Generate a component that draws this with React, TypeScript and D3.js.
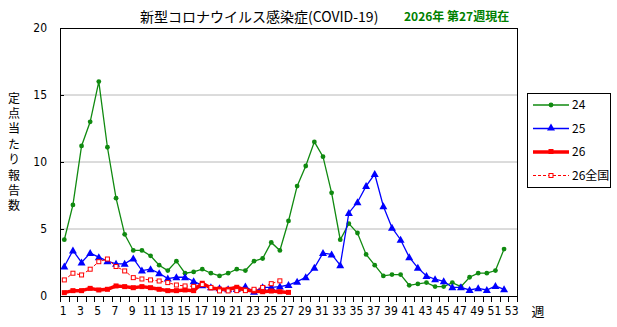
import React from "react";
import { scaleBand, scaleLinear, line, range } from "d3";

const weeks = range(1, 54);
const yTicks = [0, 5, 10, 15, 20];

// 定点当たり報告数, by week
const s2024 = [
  4.2, 6.8, 11.2, 13.0, 16.0, 11.1, 7.3, 4.6, 3.4, 3.4, 3.0, 2.3, 1.9, 2.6, 1.7, 1.8, 2.0,
  1.7, 1.5, 1.7, 2.0, 1.9, 2.6, 2.8, 4.0, 3.4, 5.6, 8.2, 9.7, 11.5, 10.4, 7.7, 4.2, 5.4,
  4.7, 3.1, 2.3, 1.5, 1.6, 1.6, 0.8, 0.9, 1.0, 0.7, 0.7, 1.0, 0.7, 1.4, 1.7, 1.7, 1.9, 3.5,
];
const s2025 = [
  2.2, 3.4, 2.5, 3.2, 2.9, 2.6, 2.4, 2.4, 2.8, 1.9, 2.0, 1.7, 1.3, 1.4, 1.4, 1.1, 0.8,
  0.65, 0.57, 0.5, 0.52, 0.7, 0.32, 0.65, 0.65, 0.7, 0.82, 1.07, 1.4, 2.1, 3.2, 3.1, 2.3,
  6.2, 7.0, 8.2, 9.1, 6.7, 5.1, 4.2, 2.9, 2.1, 1.5, 1.25, 1.1, 0.65, 0.65, 0.45, 0.57, 0.45,
  0.75, 0.5,
];
const s2026 = [
  0.25, 0.4, 0.4, 0.57, 0.45, 0.5, 0.75, 0.7, 0.62, 0.7, 0.62, 0.5, 0.4, 0.4, 0.45, 0.4,
  0.95, 0.6, 0.52, 0.5, 0.65, 0.45, 0.37, 0.32, 0.37, 0.32, 0.27,
];
const s2026National = [
  1.2, 1.7, 1.57, 2.0, 2.56, 2.76, 2.2, 1.87, 1.37, 1.27, 1.2, 1.12, 1.0, 0.82, 0.75, 0.72,
  0.85, 0.64, 0.38, 0.38, 0.4, 0.4, 0.5, 0.64, 0.92, 1.13,
];

const seriesNames = ["24", "25", "26", "26全国"];

const GREEN = "#108a10";
const BLUE = "#0000ff";
const RED = "#ff0000";

const left = 60;
const right = 517;
const top = 28;
const bottom = 296;

const numFont = "'Liberation Sans Narrow', 'DejaVu Sans Condensed', 'Noto Sans', sans-serif";
const jpFont = "'Noto Sans CJK JP', sans-serif";

export default function App() {
  const x = scaleBand<number>().domain(weeks).range([left, right]);
  const cx = (w: number) => (x(w) ?? 0) + x.bandwidth() / 2;
  const y = scaleLinear().domain([0, 20]).range([bottom, top]);

  const path = (vals: number[]) =>
    line<number>()
      .x((_, i) => cx(i + 1))
      .y((d) => y(d))(vals) ?? "";

  const tri = (px: number, py: number, s = 4) =>
    `M${px},${py - s}L${px + s},${py + s * 0.75}L${px - s},${py + s * 0.75}Z`;

  return (
    <svg
      width={617}
      height={327}
      style={{ position: "absolute", left: 0, top: 0, background: "#fff" }}
    >
      {/* title */}
      <text x={140} y={22} fontFamily={jpFont} fontSize={14} fill="#000">
        新型コロナウイルス感染症(COVID-19)
      </text>
      <text x={404} y={21} fontFamily={jpFont} fontSize={12} fontWeight="bold" fill="#008000">
        2026年 第27週現在
      </text>

      {/* grid */}
      {yTicks.slice(1, -1).map((t) => (
        <line key={t} x1={left} x2={right} y1={y(t)} y2={y(t)} stroke="#b8b8b8" strokeWidth={1} />
      ))}

      {/* frame */}
      <rect x={left + 0.5} y={top + 0.5} width={right - left} height={bottom - top} fill="none" stroke="#000" />

      {/* y axis */}
      {yTicks.map((t) => (
        <g key={t}>
          <line x1={left} x2={left + 4} y1={y(t) + 0.5} y2={y(t) + 0.5} stroke="#000" />
          <text x={47} y={y(t) + 4} textAnchor="end" fontFamily={numFont} fontSize={12}>
            {t}
          </text>
        </g>
      ))}
      <text
        x={14}
        y={92}
        fontFamily={jpFont}
        fontSize={12}
        letterSpacing={3.4}
        style={{ writingMode: "vertical-rl" }}
      >
        定点当たり報告数
      </text>

      {/* x axis */}
      {[...weeks, 54].map((w) => {
        const px = Math.round(left + (w - 1) * x.bandwidth()) + 0.5;
        return <line key={w} x1={px} x2={px} y1={bottom} y2={bottom + 6} stroke="#000" />;
      })}
      {weeks
        .filter((w) => w % 2 === 1)
        .map((w) => (
          <text key={w} x={cx(w) - 1} y={315} textAnchor="middle" fontFamily={numFont} fontSize={12}>
            {w}
          </text>
        ))}
      <text x={538} y={316} textAnchor="middle" fontFamily={jpFont} fontSize={13}>
        週
      </text>

      {/* 24 */}
      <path d={path(s2024)} fill="none" stroke={GREEN} strokeWidth={1.3} />
      {s2024.map((v, i) => (
        <circle key={i} cx={cx(i + 1)} cy={y(v)} r={2.4} fill={GREEN} />
      ))}

      {/* 25 */}
      <path d={path(s2025)} fill="none" stroke={BLUE} strokeWidth={1.3} />
      {s2025.map((v, i) => (
        <path key={i} d={tri(cx(i + 1), y(v))} fill={BLUE} />
      ))}

      {/* 26 */}
      <path d={path(s2026)} fill="none" stroke={RED} strokeWidth={3.5} strokeLinejoin="round" />
      {s2026.map((v, i) => (
        <rect key={i} x={cx(i + 1) - 2.5} y={y(v) - 2.5} width={5} height={5} fill={RED} />
      ))}

      {/* 26全国 */}
      <path d={path(s2026National)} fill="none" stroke={RED} strokeWidth={1} strokeDasharray="3,2" />
      {s2026National.map((v, i) => (
        <rect key={i} x={cx(i + 1) - 2} y={y(v) - 2} width={4} height={4} fill="#fff" stroke={RED} strokeWidth={1} />
      ))}

      {/* legend */}
      <rect x={527.5} y={93.5} width={83} height={94} fill="#fff" stroke="#000" />
      {seriesNames.map((name, i) => {
        const ly = 105 + i * 23.5;
        const x1 = 533;
        const x2 = 569;
        const mx = (x1 + x2) / 2;
        return (
          <g key={name}>
            {i === 0 && (
              <>
                <line x1={x1} x2={x2} y1={ly} y2={ly} stroke={GREEN} strokeWidth={1.3} />
                <circle cx={mx} cy={ly} r={2.4} fill={GREEN} />
              </>
            )}
            {i === 1 && (
              <>
                <line x1={x1} x2={x2} y1={ly} y2={ly} stroke={BLUE} strokeWidth={1.3} />
                <path d={tri(mx, ly - 1)} fill={BLUE} />
              </>
            )}
            {i === 2 && (
              <>
                <line x1={x1} x2={x2} y1={ly} y2={ly} stroke={RED} strokeWidth={3.5} />
                <rect x={mx - 2.5} y={ly - 3} width={5} height={5} fill={RED} />
              </>
            )}
            {i === 3 && (
              <>
                <line x1={x1} x2={x2} y1={ly} y2={ly} stroke={RED} strokeWidth={1} strokeDasharray="3,2" />
                <rect x={mx - 2} y={ly - 2} width={4} height={4} fill="#fff" stroke={RED} />
              </>
            )}
            <text x={572} y={ly + 4} fontFamily={jpFont} fontSize={12}>
              {name}
            </text>
          </g>
        );
      })}
    </svg>
  );
}
